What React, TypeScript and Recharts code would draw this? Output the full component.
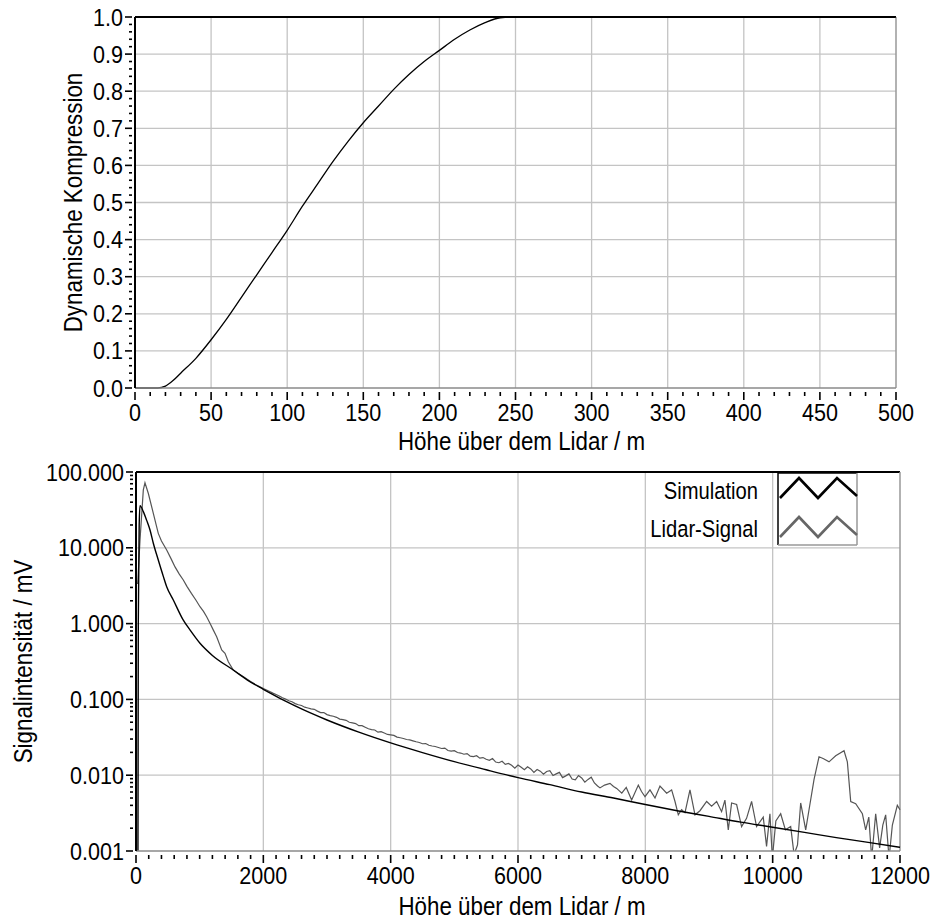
import React from 'react';
import { LineChart, Line, XAxis, YAxis, ReferenceLine, Legend, Label } from 'recharts';

const FONT = '"Liberation Sans", Arial, Helvetica, sans-serif';
const SQUEEZE_TICK = 0.88;
const SQUEEZE_TITLE = 0.86;

// ---------- top chart: dynamic compression ----------
const compHeights = [0, 15, 20, 25, 30, 40, 50, 60, 70, 80, 90, 100, 110, 120, 130, 140, 150, 160, 170, 180, 190, 200, 210, 220, 230, 240, 250, 500];
const compValues = [0, 0, 0.005, 0.02, 0.04, 0.08, 0.13, 0.185, 0.245, 0.305, 0.365, 0.425, 0.49, 0.55, 0.61, 0.665, 0.715, 0.76, 0.805, 0.845, 0.88, 0.91, 0.94, 0.965, 0.985, 0.998, 1.0, 1.0];
const compXMajor = [0, 50, 100, 150, 200, 250, 300, 350, 400, 450, 500];
const compYMajor = [0, 0.1, 0.2, 0.3, 0.4, 0.5, 0.6, 0.7, 0.8, 0.9, 1.0];

// ---------- bottom chart: signal ----------
const simHeights = [0, 30, 36, 50, 63, 115, 168, 220, 272, 350, 429, 482, 586, 743, 850, 1005, 1200, 1528, 1750, 2000, 2500, 3000, 3500, 4000, 4500, 5000, 5500, 6000, 6500, 7000, 7500, 8000, 8500, 9000, 9500, 10000, 10500, 11000, 11500, 12000];
const simValues = [0.0005, 0.0005, 1, 20, 36, 30, 23, 17.2, 11.5, 6.9, 4.2, 3.07, 2.05, 1.11, 0.82, 0.55, 0.38, 0.244, 0.18, 0.136, 0.082, 0.0535, 0.037, 0.0267, 0.0199, 0.0151, 0.0118, 0.0093, 0.0075, 0.0060, 0.0050, 0.0041, 0.0034, 0.00286, 0.0024, 0.00206, 0.00176, 0.0015, 0.0013, 0.00112];

const lidarHeights = [0, 2, 27, 63, 115, 141, 194, 272, 350, 400, 482, 550, 613, 680, 743, 800, 870, 940, 1005, 1060, 1110, 1160, 1215, 1267, 1346, 1398, 1450, 1528,
  1600, 1700, 1800, 1900, 2000, 2050, 2100, 2150, 2200, 2250, 2300, 2350, 2400, 2450, 2500, 2550, 2600, 2650, 2700, 2750, 2800, 2850, 2900, 2950,
  3000, 3050, 3100, 3150, 3200, 3250, 3300, 3350, 3400, 3450, 3500, 3550, 3600, 3650, 3700, 3750, 3800, 3850, 3900, 3950,
  4000, 4050, 4100, 4150, 4200, 4250, 4300, 4350, 4400, 4450, 4500, 4550, 4600, 4650, 4700, 4750, 4800, 4850, 4900, 4950,
  5000, 5050, 5100, 5150, 5200, 5250, 5300, 5350, 5400, 5450, 5500, 5550, 5600, 5650, 5700, 5750, 5800, 5850, 5900, 5950,
  6000, 6050, 6100, 6150, 6200, 6250, 6300, 6350, 6400, 6450, 6500, 6550, 6600, 6650, 6700, 6750, 6800, 6850, 6900, 6950,
  7000, 7050, 7100, 7150, 7200, 7250, 7288, 7360, 7445, 7500, 7550, 7630, 7700, 7785, 7890, 7940, 7995,
  8073, 8152, 8230, 8335, 8413, 8466, 8518, 8570, 8623, 8701, 8780, 8858, 8963, 9041, 9120, 9198, 9250, 9303, 9355, 9434,
  9512, 9590, 9669, 9747, 9852, 9904, 9957, 9995, 10050, 10126, 10200, 10283, 10336, 10390, 10440, 10519, 10571, 10650, 10728,
  10800, 10885, 10990, 11121, 11173, 11226, 11304, 11409, 11461, 11510, 11555, 11618, 11680, 11730, 11775, 11828, 11880, 11958, 12000];
const lidarValues = [0.0005, 3.4, 3.4, 12.7, 58, 72, 52, 28.5, 15.5, 12.3, 9.35, 7.2, 5.6, 4.5, 3.76, 3.1, 2.5, 2.05, 1.67, 1.45, 1.23, 1.02, 0.82, 0.67, 0.45, 0.405, 0.314, 0.244,
  0.222, 0.196, 0.172, 0.153, 0.139, 0.133, 0.127, 0.121, 0.116, 0.111, 0.105, 0.101, 0.096, 0.093, 0.088, 0.085, 0.083, 0.079, 0.077, 0.075, 0.074, 0.07, 0.067, 0.067,
  0.063, 0.061, 0.06, 0.058, 0.055, 0.054, 0.053, 0.05, 0.049, 0.048, 0.045, 0.045, 0.043, 0.041, 0.04, 0.0395, 0.037, 0.0375, 0.036, 0.0345,
  0.034, 0.0335, 0.0318, 0.0312, 0.0305, 0.0296, 0.0292, 0.0284, 0.0276, 0.027, 0.026, 0.0262, 0.0248, 0.0243, 0.0239, 0.0232, 0.0225, 0.0228, 0.0212, 0.0208,
  0.0211, 0.0199, 0.0196, 0.0189, 0.0193, 0.0178, 0.0176, 0.0181, 0.0168, 0.0171, 0.0162, 0.0157, 0.0166, 0.0149, 0.0146, 0.0153, 0.0139, 0.0143, 0.0135, 0.0124,
  0.0136, 0.0127, 0.0118, 0.0129, 0.0121, 0.0109, 0.0119, 0.0113, 0.0103, 0.0112, 0.0115, 0.0099, 0.0104, 0.0109, 0.0093, 0.0098, 0.0104, 0.0089, 0.0087, 0.0099,
  0.0092, 0.0081, 0.0088, 0.0094, 0.0079, 0.0072, 0.0068, 0.0074, 0.0078, 0.0071, 0.0067, 0.0058, 0.0069, 0.0047, 0.0074, 0.0061, 0.0052,
  0.0064, 0.005, 0.0072, 0.0058, 0.0064, 0.0045, 0.003, 0.0035, 0.0032, 0.0064, 0.003, 0.0034, 0.0045, 0.0039, 0.0045, 0.0033, 0.0047, 0.0019, 0.0043, 0.0041,
  0.0021, 0.0027, 0.0045, 0.0021, 0.0028, 0.00115, 0.0031, 0.0008, 0.0025, 0.0031, 0.0019, 0.0021, 0.0009, 0.0012, 0.0043, 0.0019, 0.0035, 0.0088, 0.0175,
  0.0165, 0.015, 0.018, 0.021, 0.015, 0.0045, 0.0042, 0.0031, 0.0019, 0.0028, 0.0008, 0.0031, 0.0011, 0.0022, 0.003, 0.0008, 0.0022, 0.004, 0.0035];

const sigXMajor = [0, 2000, 4000, 6000, 8000, 10000, 12000];
const sigYMajor = [0.001, 0.01, 0.1, 1, 10, 100];
const seriesNames = ['Simulation', 'Lidar-Signal'];
const seriesColors = ['#000000', '#555555'];

const xTitle = 'Höhe über dem Lidar / m';
const compYTitle = 'Dynamische Kompression';
const sigYTitle = 'Signalintensität / mV';

// ---------- helpers ----------
const range = (a: number, b: number, step: number) => {
  const out: number[] = [];
  const n = Math.round((b - a) / step);
  for (let i = 0; i <= n; i++) out.push(Math.round((a + i * step) * 1e6) / 1e6);
  return out;
};
const logTicks = (() => {
  const out: number[] = [];
  sigYMajor.slice(0, -1).forEach((d) => {
    for (let k = 1; k <= 9; k++) out.push(Math.round(k * d * 1e6) / 1e6);
  });
  out.push(sigYMajor[sigYMajor.length - 1]);
  return out;
})();

const isMajor = (v: number, majors: number[], log: boolean) =>
  majors.some((m) => (log ? Math.abs(v / m - 1) < 1e-6 : Math.abs(v - m) < 1e-6));

const SqText = (p: { x: number; y: number; anchor: string; size: number; sq: number; dy?: string; rotate?: number; children: any }) => (
  <text
    transform={`translate(${p.x},${p.y})${p.rotate ? ` rotate(${p.rotate})` : ''} scale(${p.sq},1)`}
    x={0}
    y={0}
    dy={p.dy}
    textAnchor={p.anchor}
    fontFamily={FONT}
    fontSize={p.size}
    fill="#000"
  >
    {p.children}
  </text>
);

const makeBottomTick = (majors: number[], fmt: (v: number) => string) => (props: any) => {
  const { x, y, payload } = props;
  const v = payload.value;
  const major = isMajor(v, majors, false);
  return (
    <g>
      <line x1={x} x2={x} y1={y + 4} y2={y + (major ? 12 : 8)} stroke="#000" strokeWidth={1.6} />
      {major && (
        <SqText x={x} y={y + 33} anchor="middle" size={24.5} sq={SQUEEZE_TICK}>
          {fmt(v)}
        </SqText>
      )}
    </g>
  );
};

const makeLeftTick = (majors: number[], fmt: (v: number) => string, log: boolean) => (props: any) => {
  const { x, y, payload } = props;
  const v = payload.value;
  const major = isMajor(v, majors, log);
  return (
    <g>
      <line x1={x - (major ? 10 : 6)} x2={x - 3} y1={y} y2={y} stroke="#000" strokeWidth={1.6} />
      {major && (
        <SqText x={x - 12} y={y} dy="0.35em" anchor="end" size={24.5} sq={SQUEEZE_TICK}>
          {fmt(v)}
        </SqText>
      )}
    </g>
  );
};

const XTitle = (dx: number, dy: number) => (props: any) => {
  const vb = props.viewBox || { x: 0, y: 0, width: 0, height: 0 };
  return (
    <SqText x={vb.x + vb.width / 2 + dx} y={vb.y + dy} anchor="middle" size={26} sq={SQUEEZE_TITLE}>
      {props.value}
    </SqText>
  );
};

const YTitle = (cxOff: number) => (props: any) => {
  const vb = props.viewBox || { x: 0, y: 0, width: 0, height: 0 };
  const cx = vb.x + cxOff;
  const cy = vb.y + vb.height / 2;
  return (
    <SqText x={cx} y={cy} dy="0.35em" anchor="middle" size={26} sq={SQUEEZE_TITLE} rotate={-90}>
      {props.value}
    </SqText>
  );
};

const LegendBox = (props: any) => {
  const payload: any[] = props.payload || [];
  const items = seriesNames
    .map((n) => payload.find((p) => p.value === n))
    .filter(Boolean);
  const zig = (y0: number, y1: number) =>
    `180,${y1} 199,${y0} 218,${y1} 237,${y0} 257,${y1 - 2}`;
  return (
    <svg width={262} height={80} style={{ display: 'block', overflow: 'visible' }}>
      {items.map((it: any, i: number) => (
        <SqText key={it.value} x={158} y={29 + i * 38} anchor="end" size={23.5} sq={0.86}>
          {it.value}
        </SqText>
      ))}
      <line x1={178} y1={3} x2={257} y2={3} stroke="#000" strokeWidth={1.5} />
      <line x1={178} y1={3} x2={178} y2={75} stroke="#000" strokeWidth={1.5} />
      <line x1={257} y1={3} x2={257} y2={75} stroke="#999" strokeWidth={1.5} />
      <line x1={178} y1={75} x2={257} y2={75} stroke="#999" strokeWidth={1.5} />
      {items.map((it: any, i: number) => (
        <polyline
          key={it.value + 'z'}
          points={i === 0 ? zig(8, 28) : zig(47, 67)}
          fill="none"
          stroke={i === 0 ? '#000' : '#666'}
          strokeWidth={2.6}
        />
      ))}
    </svg>
  );
};

const GRID = '#c4c4c4';

export default function App() {
  const compData = compHeights.map((h, i) => ({ x: h, y: compValues[i] }));
  const simData = simHeights.map((h, i) => ({ x: h, y: simValues[i] }));
  const lidarData = lidarHeights.map((h, i) => ({ x: h, y: lidarValues[i] }));

  return (
    <div style={{ position: 'absolute', left: 0, top: 0, width: 933, height: 920, background: '#fff' }}>
      <div style={{ position: 'absolute', left: 0, top: 0 }}>
        <LineChart width={933} height={460} margin={{ top: 17, right: 37, bottom: 12, left: 0 }}>
          <XAxis
            dataKey="x"
            type="number"
            domain={[0, 500]}
            ticks={range(0, 500, 10)}
            interval={0}
            tickSize={0}
            tickMargin={0}
            tickLine={false}
            height={60}
            axisLine={{ stroke: '#8a8a8a', strokeWidth: 1.5 }}
            tick={makeBottomTick(compXMajor, (v) => String(v))}
          >
            <Label value={xTitle} content={XTitle(6, 62)} />
          </XAxis>
          <YAxis
            type="number"
            domain={[0, 1]}
            ticks={range(0, 1, 0.02)}
            interval={0}
            tickSize={0}
            tickMargin={0}
            tickLine={false}
            width={135}
            axisLine={{ stroke: '#000', strokeWidth: 2 }}
            tick={makeLeftTick(compYMajor, (v) => v.toFixed(1), false)}
          >
            <Label value={compYTitle} content={YTitle(73)} />
          </YAxis>
          {compXMajor.slice(1, -1).map((v) => (
            <ReferenceLine key={'cx' + v} x={v} stroke={GRID} strokeWidth={1.3} />
          ))}
          {compYMajor.slice(1, -1).map((v) => (
            <ReferenceLine key={'cy' + v} y={v} stroke={GRID} strokeWidth={1.3} />
          ))}
          <ReferenceLine y={1} stroke="#000" strokeWidth={2} />
          <ReferenceLine x={500} stroke="#999" strokeWidth={1.5} />
          <Line
            data={compData}
            dataKey="y"
            type="monotone"
            stroke="#000"
            strokeWidth={1.3}
            dot={false}
            isAnimationActive={false}
          />
        </LineChart>
      </div>
      <div style={{ position: 'absolute', left: 0, top: 440 }}>
        <LineChart width={933} height={480} margin={{ top: 32, right: 33, bottom: 9, left: 0 }}>
          <XAxis
            dataKey="x"
            type="number"
            domain={[0, 12000]}
            ticks={range(0, 12000, 200)}
            interval={0}
            tickSize={0}
            tickMargin={0}
            tickLine={false}
            height={60}
            axisLine={{ stroke: '#8a8a8a', strokeWidth: 1.5 }}
            tick={makeBottomTick(sigXMajor, (v) => String(v))}
          >
            <Label value={xTitle} content={XTitle(4, 64)} />
          </XAxis>
          <YAxis
            type="number"
            scale="log"
            domain={[0.001, 100]}
            allowDataOverflow
            ticks={logTicks}
            interval={0}
            tickSize={0}
            tickMargin={0}
            tickLine={false}
            width={136}
            axisLine={{ stroke: '#000', strokeWidth: 2 }}
            tick={makeLeftTick(sigYMajor, (v) => v.toFixed(3), true)}
          >
            <Label value={sigYTitle} content={YTitle(23)} />
          </YAxis>
          {sigXMajor.slice(1, -1).map((v) => (
            <ReferenceLine key={'sx' + v} x={v} stroke={GRID} strokeWidth={1.3} />
          ))}
          {sigYMajor.slice(1, -1).map((v) => (
            <ReferenceLine key={'sy' + v} y={v} stroke={GRID} strokeWidth={1.3} />
          ))}
          <ReferenceLine y={100} stroke="#000" strokeWidth={2} />
          <ReferenceLine x={12000} stroke="#999" strokeWidth={1.5} />
          <Line
            data={lidarData}
            dataKey="y"
            name={seriesNames[1]}
            type="linear"
            stroke={seriesColors[1]}
            strokeWidth={1.2}
            dot={false}
            isAnimationActive={false}
          />
          <Line
            data={simData}
            dataKey="y"
            name={seriesNames[0]}
            type="monotone"
            stroke={seriesColors[0]}
            strokeWidth={1.4}
            dot={false}
            isAnimationActive={false}
          />
          <Legend
            layout="vertical"
            align="center"
            verticalAlign="middle"
            content={LegendBox}
            wrapperStyle={{ position: 'absolute', left: 600, top: 30, width: 262, height: 80, margin: 0 }}
          />
        </LineChart>
      </div>
    </div>
  );
}
